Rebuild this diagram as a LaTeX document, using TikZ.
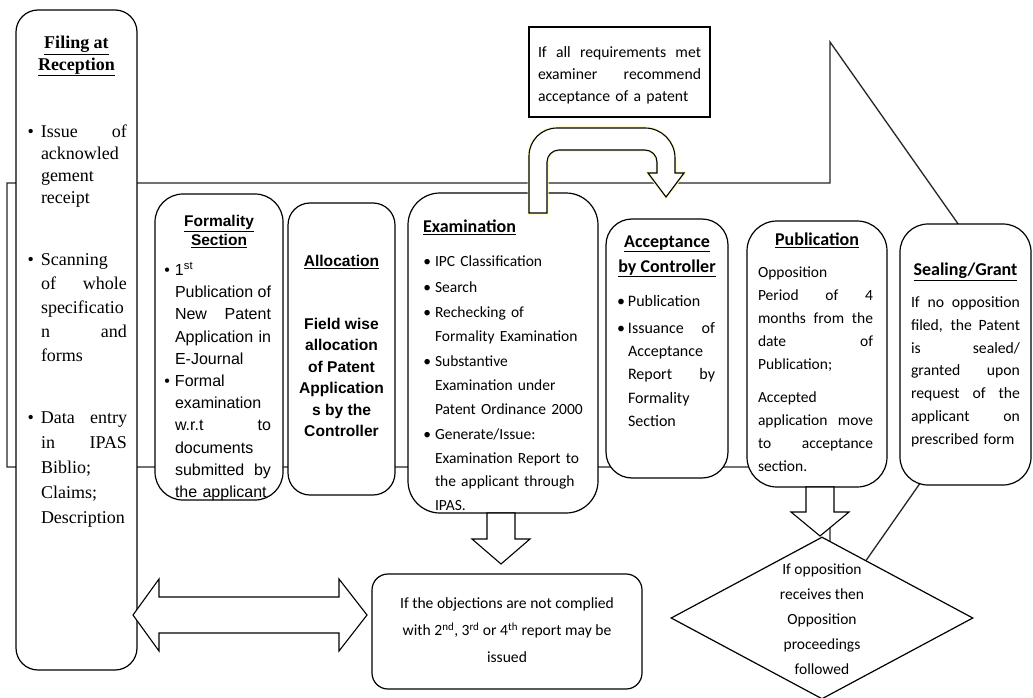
\documentclass[tikz,border=0pt]{standalone}
\usepackage{fontspec}
\setmainfont{Liberation Serif}
\newfontfamily\calf{Carlito}
\newfontfamily\arf{Liberation Sans}
\usetikzlibrary{shapes.geometric}
\setlength{\parindent}{0pt}
\newcommand\jl[2]{\leavevmode\hbox to #1{\spaceskip=0.2em plus 1fil\relax #2}}
\newcommand\mystrut{\leavevmode\rule{0pt}{0.8em}}
\newcommand\mybul[1]{\leavevmode\llap{\textbullet\hspace{#1}}}
\tikzset{
  box/.style={draw=black, line width=1.2pt, fill=white, inner sep=0pt},
  blk/.style={draw=black, line width=1.1pt, fill=white, line join=miter},
  big/.style={draw=black!85, line width=1.3pt, fill=white, line join=miter},
  txt/.style={inner sep=0pt, outer sep=0pt},
  calT/.style={font={\calf\bfseries\fontsize{18}{25}\selectfont}},
}
\begin{document}
\begin{tikzpicture}[x=1pt,y=-1pt]
\useasboundingbox[fill=white] (0,0) rectangle (1033,698);

% big background block arrow
\coordinate (bA) at (7,183);
\coordinate (bB) at (830,183);
\coordinate (bC) at (830,42);
\coordinate (bTip) at (1030,326);
\coordinate (bD) at (830,612);
\coordinate (bE) at (830,467);
\coordinate (bF) at (7,467);
\draw[big] (bA) -- (bB) -- (bC) -- (bTip) -- (bD) -- (bE) -- (bF) -- cycle;

% boxes
\node[box, rounded corners=22pt, minimum width=121pt, minimum height=660pt] (filing) at (76.5,340) {};
\node[box, rounded corners=28pt, minimum width=128pt, minimum height=306pt] (formality) at (219,347) {};
\node[box, rounded corners=22pt, minimum width=107pt, minimum height=292pt] (allocation) at (341.5,349) {};
\node[box, rounded corners=32pt, minimum width=190pt, minimum height=320pt] (exam) at (503,353) {};
\node[box, rounded corners=26pt, minimum width=122pt, minimum height=259pt] (accept) at (667,348.5) {};
\node[box, rounded corners=30pt, minimum width=140pt, minimum height=266pt] (publ) at (817,354) {};
\node[box, rounded corners=28pt, minimum width=131pt, minimum height=261pt] (seal) at (965.5,354.5) {};
\node[box, minimum width=181pt, minimum height=90pt] (topbox) at (619.5,72) {};

% Filing at Reception
\node[txt, anchor=north, align=center, font={\bfseries\fontsize{18}{22}\selectfont}] (filingT) at (76.5,34)
  {\mystrut\underline{Filing at}\\\underline{Reception}};
\node[txt, anchor=north west, text width=86pt, align=left, font={\fontsize{18}{22}\selectfont}] (filingA) at (41,123)
  {\mystrut\mybul{7pt}\jl{86pt}{Issue of}\\ acknowled\\ gement\\ receipt};
\node[txt, anchor=north west, text width=86pt, align=left, font={\fontsize{18}{24}\selectfont}] (filingB) at (41,251)
  {\mystrut\mybul{7pt}Scanning\\ \jl{86pt}{of whole}\\ specificatio\\ \jl{86pt}{n and}\\ forms};
\node[txt, anchor=north west, text width=86pt, align=left, font={\fontsize{18}{25}\selectfont}] (filingC) at (41,409)
  {\mystrut\mybul{7pt}\jl{86pt}{Data entry}\\ \jl{86pt}{in IPAS}\\ Biblio;\\ Claims;\\ Description};

% Formality Section
\node[txt, anchor=north, align=center, font={\arf\bfseries\fontsize{15.5}{19}\selectfont}] (formT) at (219,214)
  {\mystrut\underline{Formality}\\\underline{Section}};
\node[txt, anchor=north west, text width=97pt, align=left, font={\arf\fontsize{16}{22.2}\selectfont}] (formB) at (175,262)
  {\mystrut\mybul{5pt}1\textsuperscript{st}\\ \jl{96pt}{Publication of}\\ \jl{96pt}{New Patent}\\ \jl{96pt}{Application in}\\ E-Journal\\
   \mybul{5pt}Formal\\ examination\\ \jl{96pt}{w.r.t to}\\ documents\\ \jl{96pt}{submitted by}\\ the applicant};

% Allocation
\node[txt, anchor=north, align=center, font={\arf\bfseries\fontsize{15.6}{21.4}\selectfont}] (allocT) at (341.5,254)
  {\mystrut\underline{Allocation}};
\node[txt, anchor=north, align=center, font={\arf\bfseries\fontsize{15.6}{21.4}\selectfont}] (allocB) at (341.5,317)
  {\mystrut Field wise\\ allocation\\ of Patent\\ Application\\ s by the\\ Controller};

% Examination
\node[txt, anchor=north west, calT] (examT) at (423,218) {\mystrut\underline{Examination}};
\node[txt, anchor=north west, text width=152pt, align=left, font={\calf\fontsize{15.5}{23.6}\selectfont}] (examB) at (435,254)
  {\mystrut\mybul{4pt}IPC Classification\\[2pt] \mybul{4pt}Search\\[2pt] \mybul{4pt}Rechecking of\\ Formality Examination\\[2pt]
   \mybul{4pt}Substantive\\ Examination under\\ Patent Ordinance 2000\\[2pt] \mybul{4pt}Generate/Issue:\\ Examination Report to\\ the applicant through\\ IPAS.};

% Acceptance by Controller
\node[txt, anchor=north, align=center, calT] (accT) at (667,233)
  {\mystrut\underline{Acceptance}\\\underline{by Controller}};
\node[txt, anchor=north west, text width=88pt, align=left, font={\calf\fontsize{16}{23.3}\selectfont}] (accB) at (628,294)
  {\mystrut\mybul{3pt}Publication\\[3pt] \mybul{3pt}\jl{87pt}{Issuance of}\\ Acceptance\\ \jl{87pt}{Report by}\\ Formality\\ Section};

% Publication
\node[txt, anchor=north, align=center, calT] (publT) at (817,231) {\mystrut\underline{Publication}};
\node[txt, anchor=north west, text width=118pt, align=left, font={\calf\fontsize{15.5}{23}\selectfont}] (publB) at (758,265)
  {\mystrut Opposition\\ \jl{115pt}{Period of 4}\\ \jl{115pt}{months from the}\\ \jl{115pt}{date of}\\ Publication;\\[10pt]
   Accepted\\ \jl{115pt}{application move}\\ \jl{115pt}{to acceptance}\\ section.};

% Sealing/Grant
\node[txt, anchor=north, align=center, calT] (sealT) at (965.5,261) {\mystrut\underline{Sealing/Grant}};
\node[txt, anchor=north west, text width=111pt, align=left, font={\calf\fontsize{15.7}{22.8}\selectfont}] (sealB) at (911,295)
  {\mystrut\jl{109pt}{If no opposition}\\ \jl{109pt}{filed, the Patent}\\ \jl{109pt}{is sealed/}\\ \jl{109pt}{granted upon}\\ \jl{109pt}{request of the}\\ \jl{109pt}{applicant on}\\ prescribed form};

% top note
\node[txt, anchor=north west, text width=164pt, align=left, font={\calf\fontsize{15.7}{22}\selectfont}] (topT) at (538,45)
  {\mystrut\jl{163pt}{If all requirements met}\\ \jl{163pt}{examiner recommend}\\ acceptance of a patent};

% U-turn block arrow from Examination to Acceptance
\draw[blk, preaction={draw=yellow!30, line width=3pt}]
  (529,213) -- (529,156) .. controls (529,140.5) and (541.5,128) .. (557,128)
  -- (645,128) .. controls (661.5,128) and (675,141.5) .. (675,158)
  -- (675,173) -- (684,173) -- (666,197) -- (648,173) -- (657,173)
  -- (657,162) .. controls (657,155.4) and (651.6,150) .. (645,150)
  -- (559,150) .. controls (552.4,150) and (547,155.4) .. (547,162)
  -- (547,213) -- cycle;

% down block arrow from Examination
\draw[blk] (487,513) -- (487,539) -- (472,539) -- (501,564) -- (530,539) -- (515,539) -- (515,513) -- cycle;

% down block arrow from Publication
\draw[blk] (806,487) -- (806,512) -- (791,512) -- (820,536) -- (849,512) -- (834,512) -- (834,487) -- cycle;

% double block arrow
\draw[blk] (133,615) -- (159,579) -- (159,597) -- (339,597) -- (339,579) -- (367,615)
  -- (339,651) -- (339,633) -- (159,633) -- (159,651) -- cycle;

% objection box
\node[box, rounded corners=16pt, minimum width=270pt, minimum height=115pt] (object) at (507,631.5) {};
\node[txt, anchor=north, align=center, font={\calf\fontsize{15.6}{27}\selectfont}] (objectT) at (507,596)
  {\mystrut If the objections are not complied\\ with 2\textsuperscript{nd}, 3\textsuperscript{rd} or 4\textsuperscript{th} report may be\\ issued};

% diamond
\node[diamond, draw=black, line width=1.2pt, fill=white, inner sep=0pt, minimum width=302pt, minimum height=162pt] (diam) at (822,618) {};
\node[txt, anchor=north, align=center, font={\calf\fontsize{15.5}{25}\selectfont}] (diamT) at (822,562)
  {\mystrut If opposition\\ receives then\\ Opposition\\ proceedings\\ followed};
\end{tikzpicture}
\end{document}
